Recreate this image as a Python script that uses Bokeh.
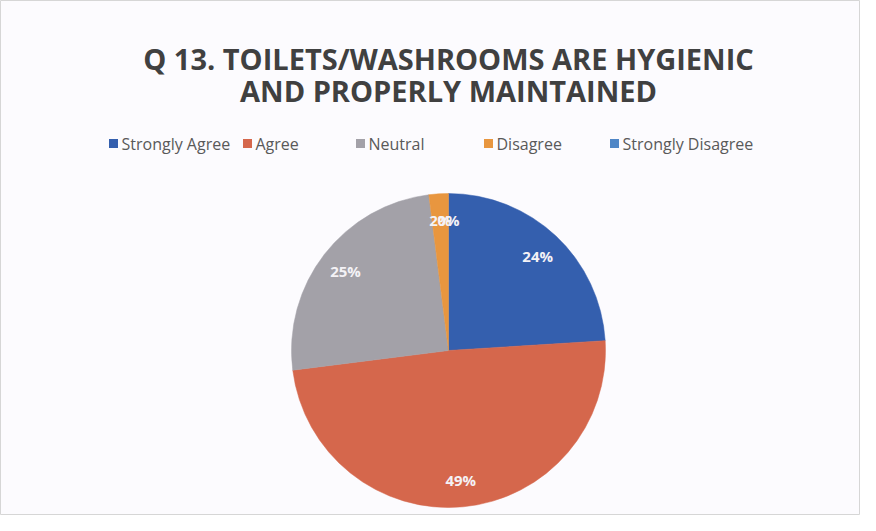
import math
from bokeh.plotting import figure
from bokeh.models import Range1d, ColumnDataSource
from bokeh.core.properties import value
from bokeh.embed import file_html
from bokeh.resources import INLINE

categories = ["Strongly Agree", "Agree", "Neutral", "Disagree", "Strongly Disagree"]
percents = [24, 49, 25, 2, 0]
colors = ["#345fae", "#d5674c", "#a3a1a8", "#e8963f", "#4f86c6"]
title_lines = ["Q 13. TOILETS/WASHROOMS ARE HYGIENIC", "AND PROPERLY MAINTAINED"]

W, H = 860, 515
p = figure(width=W, height=H, output_backend="svg", toolbar_location=None,
           x_range=Range1d(0, W), y_range=Range1d(0, H), min_border=0)
p.axis.visible = False
p.grid.visible = False
p.outline_line_color = "#d6d6d6"
p.outline_line_width = 1
p.background_fill_color = "#fcfbfe"
p.border_fill_color = "#fcfbfe"

# pie
cx, cy, r = 448, 165, 157
total = sum(percents)
starts, ends, lx, ly, labels, wcol = [], [], [], [], [], []
cum = 0.0
for v, c in zip(percents, colors):
    a0 = math.pi / 2 - cum / total * 2 * math.pi
    cum += v
    a1 = math.pi / 2 - cum / total * 2 * math.pi
    mid = (a0 + a1) / 2
    lx.append(cx + 0.83 * r * math.cos(mid))
    ly.append(cy + 0.83 * r * math.sin(mid))
    labels.append(f"{v}%")
    if v > 0:
        starts.append(a0)
        ends.append(a1)
        wcol.append(c)

wsrc = ColumnDataSource(dict(start=starts, end=ends, color=wcol))
p.wedge(x=cx, y=cy, radius=r, start_angle="start", end_angle="end", direction="clock",
        fill_color="color", line_color="color", line_width=0.5, source=wsrc)
lsrc = ColumnDataSource(dict(lx=lx, ly=ly, label=labels))
p.text(x="lx", y="ly", text="label", source=lsrc, text_color="#f4f2f6",
       text_font=value("Open Sans"), text_font_size="15px", text_font_style="bold",
       text_align="center", text_baseline="middle")

# title
p.text(x=[448, 448], y=[H - 58, H - 90], text=title_lines, text_color="#404040",
       text_font=value("Open Sans"), text_font_size="29px", text_font_style="bold",
       text_align="center", text_baseline="middle")

# legend
leg_x = [113, 247, 360, 488, 614]
leg_y = H - 143
p.rect(x=leg_x, y=[leg_y] * 5, width=9, height=9, fill_color=colors, line_color=None)
p.text(x=[x + 8 for x in leg_x], y=[leg_y] * 5, text=categories, text_color="#595959",
       text_font=value("Open Sans"), text_font_size="16px",
       text_align="left", text_baseline="middle")

open("out.html", "w").write(file_html(p, INLINE))
